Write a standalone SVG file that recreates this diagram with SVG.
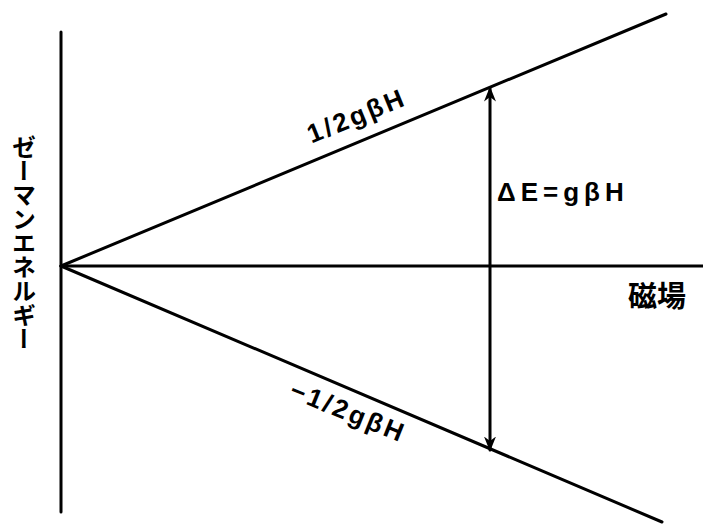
<svg xmlns="http://www.w3.org/2000/svg" width="703" height="525" viewBox="0 0 703 525">
<defs>
<style>
.ln{stroke:#000;stroke-width:3;fill:none;stroke-linecap:round}
.t{font-family:"Liberation Sans","Noto Sans CJK JP",sans-serif;font-weight:bold;fill:#000}
</style>
<marker id="ah" viewBox="0 0 10 10" refX="9" refY="5" markerWidth="5" markerHeight="5" orient="auto-start-reverse" markerUnits="strokeWidth">
<path d="M0,1 L10,5 L0,9 L3,5 Z" fill="#000"/>
</marker>
</defs>
<rect width="703" height="525" fill="#fff"/>
<g id="connectors">
<line class="ln" x1="61" y1="32" x2="61" y2="512"/>
<line class="ln" x1="61" y1="266" x2="703" y2="266"/>
<line class="ln" x1="61" y1="266" x2="666" y2="14"/>
<line class="ln" x1="61" y1="266" x2="662" y2="522"/>
<line class="ln" x1="490" y1="88" x2="490" y2="450" marker-start="url(#ah)" marker-end="url(#ah)"/>
</g>
<g id="label-upper">
<text class="t" font-size="26" letter-spacing="3" transform="translate(360,124) rotate(-22)" text-anchor="middle">1/2gβH</text>
</g>
<g id="label-lower">
<text class="t" font-size="26" letter-spacing="3" transform="translate(345,420) rotate(22)" text-anchor="middle">−1/2gβH</text>
</g>
<g id="label-delta">
<text class="t" font-size="26" letter-spacing="5" x="497" y="201">ΔE=gβH</text>
</g>
<g id="label-field">
<text class="t" font-size="29" x="628" y="307">磁場</text>
</g>
<g id="label-energy">
<text class="t" font-size="24" x="22" y="135" style="writing-mode:vertical-rl;glyph-orientation-vertical:0">ゼーマンエネルギー</text>
</g>
</svg>
